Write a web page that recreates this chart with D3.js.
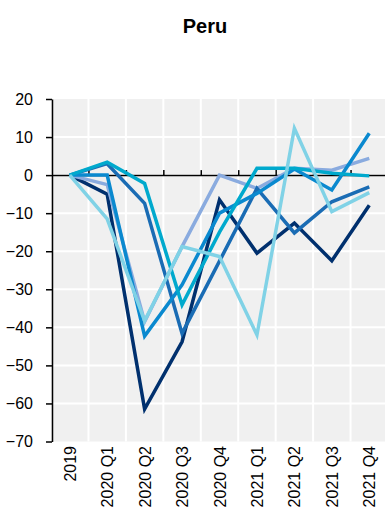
<!DOCTYPE html>
<html>
<head>
<meta charset="utf-8">
<script src="https://cdn.jsdelivr.net/npm/d3@7"></script>
<style>
  body { margin: 0; background: #fff; }
  svg { display: block; font-family: "Liberation Sans", Arial, sans-serif; }
</style>
</head>
<body>
<svg id="chart" width="385" height="511"></svg>
<script>
var quarters = ["2019", "2020 Q1", "2020 Q2", "2020 Q3", "2020 Q4", "2021 Q1", "2021 Q2", "2021 Q3", "2021 Q4"];
var yTicks = [20, 10, 0, -10, -20, -30, -40, -50, -60, -70];

// one array per line
var navy      = [0, -5,   -61.5, -43.8, -6.5, -20.5, -12.6, -22.5, -7.9];
var periwinkle= [0, -2.5, -38.5, -18.8,  0,   -3.5,   1.8,   1.3,   4.4];
var medBlue   = [0,  3,    -7.4, -41.6, -22.6, -3.5, -15.2,  -7,   -3.1];
var brightBlue= [0,  0,   -42.3, -28.8, -10,  -4.8,   1.6,  -3.9,  11];
var teal      = [0,  3.4,  -2.2, -34.1, -15,   1.8,   1.8,   0.5,  -0.2];
var lightCyan = [0, -11.5, -38.3, -18.8, -21.4, -42,  12.3,  -9.6,  -4.6];

var series = [
  {name: "navy", values: navy, color: "#00306e"},
  {name: "periwinkle", values: periwinkle, color: "#8aabdf"},
  {name: "medBlue", values: medBlue, color: "#1a6cb4"},
  {name: "brightBlue", values: brightBlue, color: "#0a89cf"},
  {name: "teal", values: teal, color: "#00a9cd"},
  {name: "lightCyan", values: lightCyan, color: "#80d2e6"}
];

var svg = d3.select("#chart");

var x = d3.scaleBand()
    .domain(quarters)
    .range([51, 388]);

var y = d3.scaleLinear()
    .domain([-70, 20])
    .range([441.5, 99]);

var cx = function(q) { return x(q) + x.bandwidth() / 2; };

// title
svg.append("text")
    .text("Peru")
    .attr("x", 205)
    .attr("y", 33)
    .attr("text-anchor", "middle")
    .style("font-size", "20px")
    .style("font-weight", "bold")
    .style("fill", "#000");

// plot background
svg.append("rect")
    .attr("x", x.range()[0])
    .attr("y", y(20))
    .attr("width", x.range()[1] - x.range()[0])
    .attr("height", y(-70) - y(20))
    .attr("fill", "#f0f0f0");

// grid
var grid = svg.append("g").attr("class", "grid");
grid.selectAll("line.h")
    .data(yTicks.filter(function(t) { return t > -70 && t < 20; }))
    .enter().append("line")
    .attr("class", "h")
    .attr("x1", x.range()[0])
    .attr("x2", x.range()[1])
    .attr("y1", function(d) { return y(d); })
    .attr("y2", function(d) { return y(d); })
    .attr("stroke", "#fff")
    .attr("stroke-width", 2);
grid.selectAll("line.v")
    .data(quarters.slice(1))
    .enter().append("line")
    .attr("class", "v")
    .attr("x1", function(d) { return x(d); })
    .attr("x2", function(d) { return x(d); })
    .attr("y1", y(20))
    .attr("y2", y(-70))
    .attr("stroke", "#fff")
    .attr("stroke-width", 2);

// y axis
var yAxis = d3.axisLeft(y)
    .tickValues(yTicks)
    .tickSize(6)
    .tickPadding(13)
    .tickSizeOuter(0);
var gy = svg.append("g")
    .attr("transform", "translate(52,0)")
    .call(yAxis);
gy.select(".domain").attr("stroke", "#000").attr("stroke-width", 1.5);
gy.selectAll(".tick line").attr("stroke", "#000").attr("stroke-width", 1.5);
gy.selectAll(".tick text")
    .style("font-size", "16px")
    .style("font-family", "'Liberation Sans', Arial, sans-serif")
    .attr("fill", "#000");

// zero line with upward ticks at band edges
var zeroAxis = d3.axisTop(d3.scaleLinear().domain([0, 1]).range([52, 385]))
    .tickValues(quarters.slice(1).map(function(q) { return (x(q) - 52) / (385 - 52); }))
    .tickSize(5)
    .tickSizeOuter(0)
    .tickFormat("");
var gz = svg.append("g")
    .attr("transform", "translate(0," + y(0) + ")")
    .call(zeroAxis);
gz.select(".domain").attr("stroke", "#000").attr("stroke-width", 1.5);
gz.selectAll(".tick line").attr("stroke", "#000").attr("stroke-width", 1.5);

// lines
var line = d3.line()
    .x(function(d, i) { return cx(quarters[i]); })
    .y(function(d) { return y(d); });

svg.append("g")
    .selectAll("path")
    .data(series)
    .enter().append("path")
    .attr("d", function(s) { return line(s.values); })
    .attr("fill", "none")
    .attr("stroke", function(s) { return s.color; })
    .attr("stroke-width", 3.5)
    .attr("stroke-linejoin", "miter");

// category labels, rotated
svg.append("g")
    .selectAll("text")
    .data(quarters)
    .enter().append("text")
    .text(function(d) { return d; })
    .attr("transform", function(d) { return "translate(" + (cx(d) + 6) + ",446) rotate(-90)"; })
    .attr("text-anchor", "end")
    .style("font-size", "16px")
    .style("fill", "#000");
</script>
</body>
</html>
